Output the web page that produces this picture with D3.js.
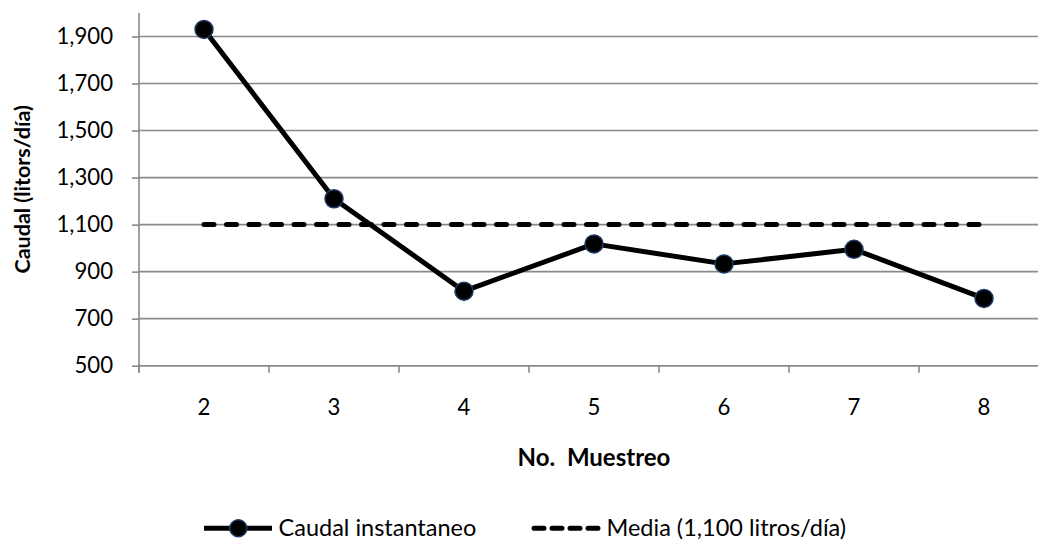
<!DOCTYPE html>
<html>
<head>
<meta charset="utf-8">
<script src="https://cdn.jsdelivr.net/npm/d3@7"></script>
<style>
  html, body { margin: 0; padding: 0; background: #fff; }
  svg { display: block; font-family: Lato, "Open Sans", sans-serif; }
  text { white-space: pre; }
</style>
</head>
<body>
<svg id="chart" width="1038" height="540"></svg>
<script>
// Sampling rounds and the instantaneous flow measured in each one
const categories = ["2", "3", "4", "5", "6", "7", "8"];
const caudal = [1930, 1210, 817, 1018, 933, 995, 786];
const media = [1100, 1100, 1100, 1100, 1100, 1100, 1100];
const yTicks = [500, 700, 900, 1100, 1300, 1500, 1700, 1900];
const yDomain = [500, 2000];
const seriesNames = ["Caudal instantaneo", "Media (1,100 litros/día)"];
const xTitle = "No.  Muestreo";
const yTitle = "Caudal (litors/día)";

const svg = d3.select("#chart");
const plot = { left: 139, right: 1049, top: 13, bottom: 365.7 };
const gridColor = "#8a8a8a";
const markerStroke = "#1f3864";

const x = d3.scaleBand().domain(categories).range([plot.left, plot.right]).paddingInner(0).paddingOuter(0);
const xc = c => x(c) + x.bandwidth() / 2;
const y = d3.scaleLinear().domain(yDomain).range([plot.bottom, plot.top]);

// horizontal gridlines
svg.append("g")
  .selectAll("line")
  .data(yTicks)
  .join("line")
  .attr("x1", plot.left).attr("x2", plot.right)
  .attr("y1", d => y(d)).attr("y2", d => y(d))
  .attr("stroke", gridColor).attr("stroke-width", 1.6);

// y axis
const yAxis = svg.append("g")
  .attr("transform", `translate(${plot.left},0)`)
  .call(d3.axisLeft(y).tickValues(yTicks).tickFormat(d3.format(",")).tickSize(7).tickPadding(19));
yAxis.select(".domain").remove();
yAxis.selectAll(".tick line").attr("stroke", gridColor).attr("stroke-width", 1.6);
yAxis.selectAll(".tick text").attr("font-size", 22.2).attr("fill", "#000").attr("font-family", "Lato");
svg.append("line")
  .attr("x1", plot.left).attr("x2", plot.left)
  .attr("y1", plot.top).attr("y2", plot.bottom + 7)
  .attr("stroke", gridColor).attr("stroke-width", 1.6);

// x axis: ticks at category boundaries, labels at centres
const xAxisG = svg.append("g").attr("transform", `translate(0,${plot.bottom})`);
xAxisG.append("line")
  .attr("x1", plot.left).attr("x2", plot.right)
  .attr("stroke", gridColor).attr("stroke-width", 1.6);
xAxisG.selectAll("line.tk")
  .data(categories)
  .join("line").attr("class", "tk")
  .attr("x1", d => x(d)).attr("x2", d => x(d))
  .attr("y1", 0).attr("y2", 7)
  .attr("stroke", gridColor).attr("stroke-width", 1.6);
xAxisG.selectAll("text")
  .data(categories)
  .join("text")
  .attr("x", d => xc(d)).attr("y", 49.5)
  .attr("text-anchor", "middle")
  .attr("font-size", 22.2)
  .text(d => d);

// axis titles
svg.append("text")
  .attr("x", (plot.left + plot.right) / 2).attr("y", 466)
  .attr("text-anchor", "middle")
  .attr("font-size", 24).attr("font-weight", "bold")
  .text(xTitle);
svg.append("text")
  .attr("transform", `translate(30,${(plot.top + plot.bottom) / 2}) rotate(-90)`)
  .attr("text-anchor", "middle")
  .attr("font-size", 21.5).attr("font-weight", "bold")
  .text(yTitle);

// mean line
const line = d3.line().x((d, i) => xc(categories[i])).y(d => y(d));
svg.append("path")
  .datum(media)
  .attr("d", line)
  .attr("fill", "none")
  .attr("stroke", "#000").attr("stroke-width", 5)
  .attr("stroke-linecap", "round")
  .attr("stroke-dasharray", "10,12.5");

// flow series
svg.append("path")
  .datum(caudal)
  .attr("d", line)
  .attr("fill", "none")
  .attr("stroke", "#000").attr("stroke-width", 5)
  .attr("stroke-linejoin", "round");
svg.append("g")
  .selectAll("circle")
  .data(caudal)
  .join("circle")
  .attr("cx", (d, i) => xc(categories[i]))
  .attr("cy", d => y(d))
  .attr("r", 9)
  .attr("fill", "#000")
  .attr("stroke", markerStroke).attr("stroke-width", 1.5);

// legend
const lg = svg.append("g");
lg.append("line").attr("x1", 204).attr("x2", 272).attr("y1", 528.3).attr("y2", 528.3)
  .attr("stroke", "#000").attr("stroke-width", 5);
lg.append("circle").attr("cx", 238.3).attr("cy", 528.3).attr("r", 8.5)
  .attr("fill", "#000").attr("stroke", markerStroke).attr("stroke-width", 1.5);
lg.append("text").attr("x", 278.5).attr("y", 535.5).attr("font-size", 23.5).text(seriesNames[0]);
lg.append("line").attr("x1", 534).attr("x2", 601).attr("y1", 528.3).attr("y2", 528.3)
  .attr("stroke", "#000").attr("stroke-width", 5)
  .attr("stroke-linecap", "round").attr("stroke-dasharray", "10,8");
lg.append("text").attr("x", 606.5).attr("y", 535.5).attr("font-size", 23.5).text(seriesNames[1]);
</script>
</body>
</html>
